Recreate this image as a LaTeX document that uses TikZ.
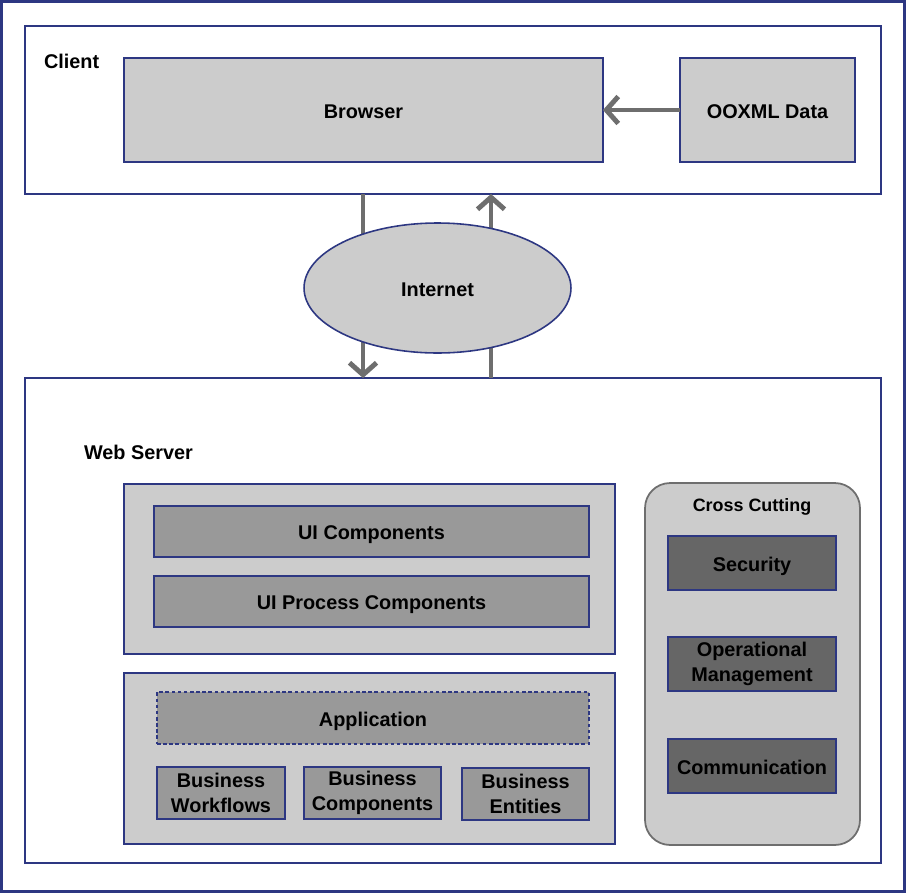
\documentclass[tikz,border=0pt]{standalone}
\usepackage{fontspec}
\setmainfont{Liberation Sans}
\usetikzlibrary{shapes.geometric}
\usetikzlibrary{arrows.meta}

\definecolor{navy}{RGB}{45,55,130}
\definecolor{lightfill}{RGB}{204,204,204}
\definecolor{midfill}{RGB}{153,153,153}
\definecolor{darkfill}{RGB}{102,102,102}
\definecolor{flowgray}{RGB}{110,110,110}

\begin{document}
\begin{tikzpicture}[x=0.02cm,y=-0.02cm,inner sep=0pt,outer sep=0pt,
font=\fontsize{11.3}{14.2}\selectfont\bfseries,
>={Straight Barb[length=2.4mm,width=5.4mm]},
tier/.style={draw=navy,line width=0.9pt,rectangle,fill=white},
block/.style={draw=navy,line width=0.8pt,rectangle,fill=lightfill,align=center},
part/.style={block,fill=midfill},
core/.style={block,fill=darkfill},
oneline/.style={text height=0.95em,text depth=0pt},
flow/.style={draw=flowgray,line width=2.8pt}]

\useasboundingbox (0,0) rectangle (906,893);

\draw (453,446.5) node[tier,line width=1.4pt,minimum width=18.06cm,minimum height=17.8cm] (page) {};

% client side
\draw (453,110) node[tier,minimum width=17.12cm,minimum height=3.36cm] (client) {};
\draw (44,60) node[anchor=west,oneline] (clientlbl) {Client};
\draw (363.5,110) node[block,oneline,minimum width=9.58cm,minimum height=2.08cm] (browser) {Browser};
\draw (767.5,110) node[block,oneline,minimum width=3.5cm,minimum height=2.08cm] (ooxml) {OOXML Data};
\draw[flow,->] (ooxml) -- (browser);

% server side
\draw (453,620.5) node[tier,minimum width=17.12cm,minimum height=9.7cm] (server) {};
\draw (84,451) node[anchor=west,oneline] (serverlbl) {Web Server};

\draw (369.5,569) node[block,minimum width=9.82cm,minimum height=3.4cm] (uigroup) {};
\draw (371.5,531.5) node[part,oneline,minimum width=8.7cm,minimum height=1.02cm] (uicomp) {UI Components};
\draw (371.5,601.5) node[part,oneline,minimum width=8.7cm,minimum height=1.02cm] (uiproc) {UI Process Components};

\draw (369.5,758.5) node[block,minimum width=9.82cm,minimum height=3.42cm] (bizgroup) {};
\draw (373,718) node[part,oneline,dash pattern=on 2pt off 1.5pt,minimum width=8.64cm,minimum height=1.04cm] (app) {Application};
\draw (221,793) node[part,minimum width=2.56cm,minimum height=1.04cm] (bizflow) {Business\\Workflows};
\draw (372.5,793) node[part,minimum width=2.74cm,minimum height=1.04cm] (bizcomp) {Business\\Components};
\draw (525.5,794) node[part,minimum width=2.54cm,minimum height=1.04cm] (bizent) {Business\\Entities};

\draw (752.5,664) node[block,draw=flowgray,line width=1pt,rounded corners=0.5cm,minimum width=4.3cm,minimum height=7.24cm] (cross) {};
\draw (752,503) node[oneline,font=\fontsize{10.2}{12}\selectfont\bfseries] (crosslbl) {Cross Cutting};
\draw (752,563) node[core,oneline,minimum width=3.36cm,minimum height=1.08cm] (security) {Security};
\draw (752,664) node[core,minimum width=3.36cm,minimum height=1.08cm] (opman) {Operational\\Management};
\draw (752,766) node[core,oneline,minimum width=3.36cm,minimum height=1.08cm] (comm) {Communication};

% internet link
\coordinate (dnx) at (363,0);
\coordinate (upx) at (491,0);
\draw[flow,->] (client.south -| dnx) -- (server.north -| dnx);
\draw[flow,->] (server.north -| upx) -- (client.south -| upx);
\draw (437.5,288) node[draw=navy,line width=0.9pt,fill=lightfill,ellipse,oneline,minimum width=5.34cm,minimum height=2.6cm] (internet) {Internet};
\end{tikzpicture}
\end{document}
